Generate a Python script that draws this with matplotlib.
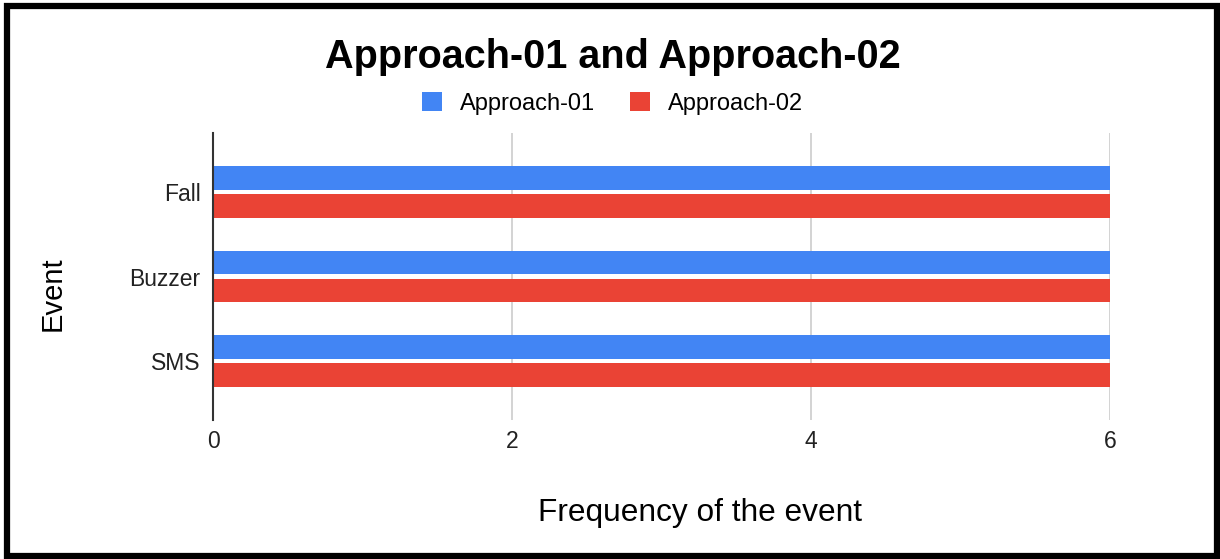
import numpy as np
import matplotlib.pyplot as plt
from matplotlib.patches import Rectangle

# dados do gráfico
eventos = ["Fall", "Buzzer", "SMS"]
abordagem_01 = [6, 6, 6]
abordagem_02 = [6, 6, 6]
series = ["Approach-01", "Approach-02"]
cores = ["#4285F4", "#EA4335"]

plt.rcParams["font.family"] = ["Liberation Sans", "DejaVu Sans"]

fig = plt.figure(figsize=(12.2, 5.59), dpi=100)
ax = fig.add_axes([0.1746, 0.2487, 0.7352, 0.5133])

y = np.arange(len(eventos))
altura = 0.28
ax.barh(y - 0.165, abordagem_01, height=altura, color=cores[0], label=series[0], zorder=3)
ax.barh(y + 0.165, abordagem_02, height=altura, color=cores[1], label=series[1], zorder=3)

ax.set_xlim(0, 6)
ax.set_ylim(2.7, -0.7)
ax.set_xticks([0, 2, 4, 6])
ax.set_yticks(y)
ax.set_yticklabels(eventos)
ax.tick_params(axis="both", length=0, labelsize=16.5, colors="#222222")
ax.tick_params(axis="x", pad=7)
ax.tick_params(axis="y", pad=9)
ax.grid(axis="x", color="#cccccc", linewidth=1.2, zorder=0)
for lado in ["top", "right", "bottom"]:
    ax.spines[lado].set_visible(False)
ax.spines["left"].set_color("#333333")
ax.spines["left"].set_linewidth(1.5)
ax.spines["left"].set_zorder(4)

ax.set_xlabel("Frequency of the event", fontsize=22.8, va="center")
ax.xaxis.set_label_coords(0.543, -0.324)
ax.set_ylabel("Event", fontsize=21, va="center")
ax.yaxis.set_label_coords(-0.179, 0.44)

fig.text(0.502, 0.898, "Approach-01 and Approach-02", ha="center", va="center",
         fontsize=28.5, fontweight="bold")
fig.legend(loc="center", bbox_to_anchor=(0.502, 0.815), ncol=2, frameon=False,
           fontsize=17, handlelength=0.85, handleheight=0.85, columnspacing=1.45,
           handletextpad=0.76)

# moldura preta em volta da figura
fig.patches.append(Rectangle((7 / 1220, 3 / 559), 1210 / 1220, 550 / 559,
                             transform=fig.transFigure, fill=False,
                             edgecolor="black", linewidth=4.5))

fig.savefig("out.png", dpi=100)
